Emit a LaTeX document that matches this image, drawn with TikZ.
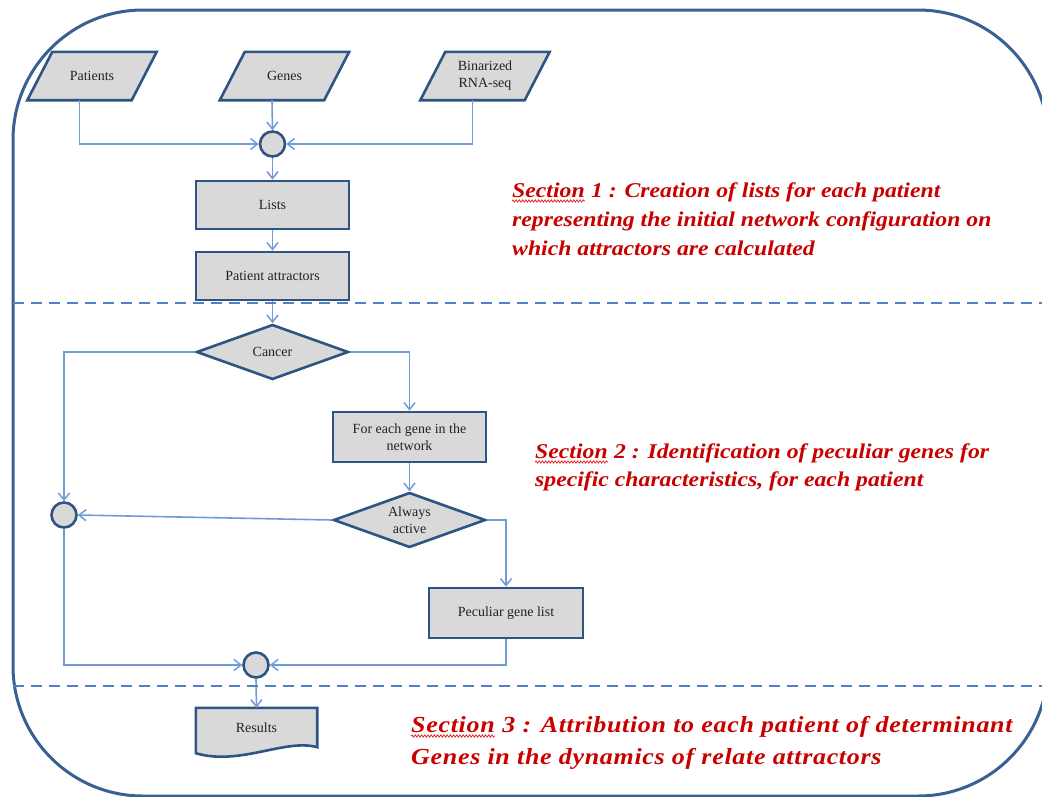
\documentclass[tikz,border=0pt]{standalone}
\usepackage{fontspec}
\setmainfont{Liberation Serif}
\usetikzlibrary{arrows.meta,calc,shapes.geometric,backgrounds,decorations.pathmorphing}

\definecolor{framecol}{RGB}{56,96,146}
\definecolor{sepcol}{RGB}{79,129,196}
\definecolor{linkcol}{RGB}{112,155,214}
\definecolor{boxcol}{RGB}{46,84,132}
\definecolor{boxfill}{RGB}{217,217,217}
\definecolor{inkcol}{RGB}{34,34,34}
\definecolor{notecol}{RGB}{200,0,0}
\definecolor{spellcol}{RGB}{230,40,40}

\newcommand{\boxfont}{\fontsize{14}{17}\selectfont}
\newcommand{\notefont}{\fontsize{21}{24}\selectfont\bfseries\itshape\addfontfeature{FakeStretch=1.13}}
\newcommand{\bignotefont}{\fontsize{23}{26}\selectfont\bfseries\itshape\addfontfeature{FakeStretch=1.13,LetterSpace=3}}

% slanted input box drawn around a named node
\newcommand{\paragram}[1]{%
  \draw[boxline] ($(#1.south west)+(-12.5,0)$) -- ($(#1.south east)+(-12.5,0)$)
    -- ($(#1.north east)+(12.5,0)$) -- ($(#1.north west)+(12.5,0)$) -- cycle;}
% wavy underline below a named word
\newcommand{\wavyline}[1]{%
  \draw[spellcol, line width=0.8pt, decorate, decoration={snake, amplitude=1.1pt, segment length=3.2pt}]
    ($(#1.base west)+(0,4)$) -- ($(#1.base east)+(0,4)$);}

\begin{document}
\begin{tikzpicture}[x=1pt,y=-1pt,
  boxline/.style={draw=boxcol, line width=2.6pt, fill=boxfill, line join=miter},
  txt/.style={font=\boxfont, text=inkcol, align=center, inner sep=0pt},
  io/.style={txt, rectangle, minimum width=104pt, minimum height=48pt},
  proc/.style={txt, boxline, rectangle, minimum width=153pt, minimum height=48pt},
  decide/.style={txt, boxline, diamond, shape aspect=2.75, minimum width=152pt, minimum height=55pt},
  junction/.style={boxline, circle, minimum size=25pt, inner sep=0pt},
  link/.style={draw=linkcol, line width=1.6pt, -{Straight Barb[length=7pt,width=11pt,line width=1.5pt]}},
  sectline/.style={draw=sepcol, line width=2.3pt, dash pattern=on 11pt off 7pt},
  note/.style={font=\notefont, text=notecol, anchor=base west, inner sep=0pt},
  bignote/.style={font=\bignotefont, text=notecol, anchor=base west, inner sep=0pt}]

\useasboundingbox (0,0) rectangle (1042,796);
\clip (0,0) rectangle (1042,796);

% outer frame
\draw[framecol, line width=3pt, rounded corners=130pt] (13,10) rectangle (1048,796);

% section 1: inputs and attractors
\node[io] (pat) at (92,76) {Patients};
\node[io] (gen) at (284.5,76) {Genes};
\node[io] (bin) at (485,76) {Binarized\\RNA-seq};
\begin{scope}[on background layer]
  \paragram{pat}\paragram{gen}\paragram{bin}
\end{scope}
\coordinate (pat-b) at ($(pat.south)+(-12.5,0)$);
\coordinate (gen-b) at ($(gen.south)+(-12.5,0)$);
\coordinate (bin-b) at ($(bin.south)+(-12.5,0)$);

\node[junction] (c1) at (272.5,144) {};
\node[proc] (lists) at (272.5,205) {Lists};
\node[proc] (attr) at (272.5,276) {Patient attractors};

% section 2: decisions
\node[decide] (cancer) at (272.5,352) {Cancer};
\node[proc, minimum height=50pt] (each) at (409.5,437) {For each gene in the\\network};
\node[decide] (active) at (409.5,520) {Always\\active};
\node[proc, minimum width=154pt, minimum height=50pt] (pec) at (506,613) {Peculiar gene list};
\node[junction] (c2) at (64,515) {};
\node[junction] (c3) at (256,665) {};

% section 3: output document
\node[txt, minimum width=121pt, minimum height=40pt] (res) at (256.5,728) {Results};
\begin{scope}[on background layer]
  \draw[boxline] (res.north west) -- (res.north east) -- ($(res.south east)+(0,-1)$)
    .. controls ($(res.south east)+(-32,-10)$) and ($(res.south west)+(44,18)$)
    .. ($(res.south west)+(0,5)$) -- cycle;
\end{scope}

% connectors
\draw[link] (pat-b) |- (c1.west);
\draw[link] (gen-b) -- (c1.north);
\draw[link] (bin-b) |- (c1.east);
\draw[link] (c1.south) -- (lists.north);
\draw[link] (lists.south) -- (attr.north);
\draw[link] (attr.south) -- (cancer.north);
\draw[link] (cancer.west) -| (c2.north);
\draw[link] (cancer.east) -| (each.north);
\draw[link] (each.south) -- (active.north);
\draw[link] (active.west) -- (c2.east);
\draw[link] (active.east) -| (pec.north);
\draw[link] (pec.south) |- (c3.east);
\draw[link] (c2.south) |- (c3.west);
\draw[link] (c3.south) -- (res.north);

% section separators
\draw[sectline] (13,303) -- (1048,303);
\draw[sectline] (13,686) -- (1048,686);

% section notes
\node[note] (s1w) at (512,197) {Section};
\node[note] (s1a) at (s1w.base east) {\ 1 : Creation of lists for each patient};
\node[note] (s1b) at (512,226) {representing the initial network configuration on};
\node[note] (s1c) at (512,255) {which attractors are calculated};
\node[note] (s2w) at (535,458) {Section};
\node[note] (s2a) at (s2w.base east) {\ 2 : Identification of peculiar genes for};
\node[note] (s2b) at (535,486) {specific characteristics, for each patient};
\node[bignote] (s3w) at (411,732) {Section};
\node[bignote] (s3a) at (s3w.base east) {\ 3 : Attribution to each patient of determinant};
\node[bignote] (s3b) at (411,764) {Genes in the dynamics of relate attractors};
\wavyline{s1w}\wavyline{s2w}\wavyline{s3w}
\end{tikzpicture}
\end{document}
